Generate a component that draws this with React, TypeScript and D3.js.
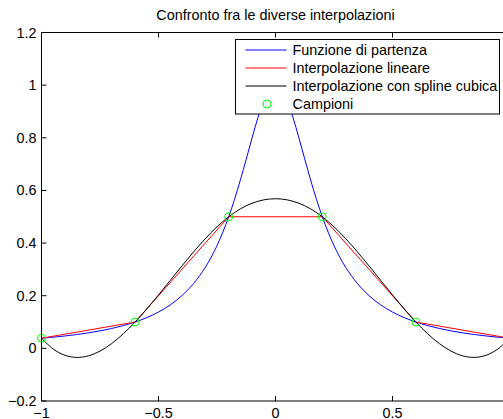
import React from "react";
import * as d3 from "d3";

const funcX = [-1, -0.95, -0.9, -0.85, -0.8, -0.75, -0.7, -0.65, -0.6, -0.55, -0.5, -0.45, -0.4, -0.35, -0.3, -0.275, -0.25, -0.225, -0.2, -0.175, -0.15, -0.125, -0.1, -0.075, -0.05, -0.025, 0,
  0.025, 0.05, 0.075, 0.1, 0.125, 0.15, 0.175, 0.2, 0.225, 0.25, 0.275, 0.3, 0.35, 0.4, 0.45, 0.5, 0.55, 0.6, 0.65, 0.7, 0.75, 0.8, 0.85, 0.9, 0.95, 1];
const funcY = [0.0385, 0.0424, 0.0471, 0.0525, 0.0588, 0.0664, 0.0755, 0.0865, 0.1, 0.1168, 0.1379, 0.1649, 0.2, 0.2462, 0.3077, 0.3459, 0.3902, 0.4414, 0.5, 0.5664, 0.64, 0.7191, 0.8, 0.8767, 0.9412, 0.9846, 1,
  0.9846, 0.9412, 0.8767, 0.8, 0.7191, 0.64, 0.5664, 0.5, 0.4414, 0.3902, 0.3459, 0.3077, 0.2462, 0.2, 0.1649, 0.1379, 0.1168, 0.1, 0.0865, 0.0755, 0.0664, 0.0588, 0.0525, 0.0471, 0.0424, 0.0385];

const sampleX = [-1, -0.6, -0.2, 0.2, 0.6, 1];
const sampleY = [0.0385, 0.1, 0.5, 0.5, 0.1, 0.0385];

const splineX = [-1, -0.95, -0.9, -0.85, -0.8, -0.75, -0.7, -0.65, -0.6, -0.55, -0.5, -0.45, -0.4, -0.35, -0.3, -0.25, -0.2, -0.15, -0.1, -0.05, 0,
  0.05, 0.1, 0.15, 0.2, 0.25, 0.3, 0.35, 0.4, 0.45, 0.5, 0.55, 0.6, 0.65, 0.7, 0.75, 0.8, 0.85, 0.9, 0.95, 1];
const splineY = [0.0385, -0.0026, -0.0263, -0.0344, -0.0285, -0.0103, 0.0183, 0.0556, 0.1, 0.1497, 0.2029, 0.2579, 0.3131, 0.3666, 0.4167, 0.4618, 0.5, 0.5300, 0.5513, 0.5642, 0.5685,
  0.5642, 0.5513, 0.5300, 0.5, 0.4618, 0.4167, 0.3666, 0.3131, 0.2579, 0.2029, 0.1497, 0.1, 0.0556, 0.0183, -0.0103, -0.0285, -0.0344, -0.0263, -0.0026, 0.0385];

const xTicks = [-1, -0.5, 0, 0.5, 1];
const yTicks = [-0.2, 0, 0.2, 0.4, 0.6, 0.8, 1, 1.2];
const xTickLabels = ["\u22121", "\u22120.5", "0", "0.5", "1"];
const yTickLabels = ["\u22120.2", "0", "0.2", "0.4", "0.6", "0.8", "1", "1.2"];

const titleText = "Confronto fra le diverse interpolazioni";
const legendLabels = ["Funzione di partenza", "Interpolazione lineare", "Interpolazione con spline cubica", "Campioni"];

export default function App() {
  const W = 503, H = 419;
  const left = 41.5, right = 509.5, top = 32.5, bottom = 401;
  const x = d3.scaleLinear().domain([-1, 1]).range([left, right]);
  const y = d3.scaleLinear().domain([-0.2, 1.2]).range([bottom, top]);
  const font = "Liberation Sans, Arial, Helvetica, sans-serif";
  const fs = 14.4;

  const mk = (xs: number[], ys: number[]) => xs.map((v, i) => [v, ys[i]] as [number, number]);
  const lineGen = d3.line<[number, number]>().x(d => x(d[0])).y(d => y(d[1]));
  const funcPath = lineGen.curve(d3.curveCatmullRom)(mk(funcX, funcY));
  const splinePath = lineGen.curve(d3.curveCatmullRom)(mk(splineX, splineY));
  const linPath = lineGen.curve(d3.curveLinear)(mk(sampleX, sampleY));

  const legX = 235.5, legY = 39.5, legW = 264, legH = 74.5;
  const rowY = [50, 68, 86, 104];
  const colors = ["#0000ff", "#ff0000", "#000000"];

  return (
    <svg width={W} height={H} style={{ position: "absolute", left: 0, top: 0, background: "#fff" }} fontFamily={font}>
      <rect x={0} y={0} width={W} height={H} fill="#fff" />
      <text x={(left + right) / 2} y={19.5} textAnchor="middle" fontSize={fs} fill="#000">{titleText}</text>
      <defs>
        <clipPath id="plotclip"><rect x={left} y={top} width={right - left} height={bottom - top} /></clipPath>
      </defs>
      <g clipPath="url(#plotclip)">
        <path d={funcPath || ""} fill="none" stroke="#0000ff" strokeWidth={1} />
        <path d={linPath || ""} fill="none" stroke="#ff0000" strokeWidth={1} />
        <path d={splinePath || ""} fill="none" stroke="#000000" strokeWidth={1} />
      </g>
      {sampleX.map((v, i) => (
        <circle key={i} cx={x(v)} cy={y(sampleY[i])} r={4} fill="none" stroke="#00ff00" strokeWidth={1} />
      ))}
      <rect x={left} y={top} width={right - left} height={bottom - top} fill="none" stroke="#000" strokeWidth={1} />
      {xTicks.map((t, i) => (
        <g key={"xt" + i}>
          <line x1={x(t)} x2={x(t)} y1={bottom} y2={bottom - 5} stroke="#000" />
          <line x1={x(t)} x2={x(t)} y1={top} y2={top + 5} stroke="#000" />
          {x(t) < W - 8 ? (
            <text x={x(t)} y={bottom + 16.5} textAnchor="middle" fontSize={fs} fill="#000">{xTickLabels[i]}</text>
          ) : null}
        </g>
      ))}
      {yTicks.map((t, i) => (
        <g key={"yt" + i}>
          <line x1={left} x2={left + 5} y1={y(t)} y2={y(t)} stroke="#000" />
          <line x1={right} x2={right - 5} y1={y(t)} y2={y(t)} stroke="#000" />
          <text x={left - 5} y={y(t) + 5} textAnchor="end" fontSize={fs} fill="#000">{yTickLabels[i]}</text>
        </g>
      ))}
      <rect x={legX} y={legY} width={legW} height={legH} fill="#fff" stroke="#000" strokeWidth={1} />
      {legendLabels.map((lab, i) => (
        <g key={"lg" + i}>
          {i < 3 ? (
            <line x1={245.5} x2={286.5} y1={rowY[i]} y2={rowY[i]} stroke={colors[i]} strokeWidth={1} />
          ) : (
            <circle cx={267} cy={rowY[i]} r={4} fill="none" stroke="#00ff00" strokeWidth={1} />
          )}
          <text x={292.5} y={rowY[i] + 5} fontSize={fs} fill="#000">{lab}</text>
        </g>
      ))}
    </svg>
  );
}
